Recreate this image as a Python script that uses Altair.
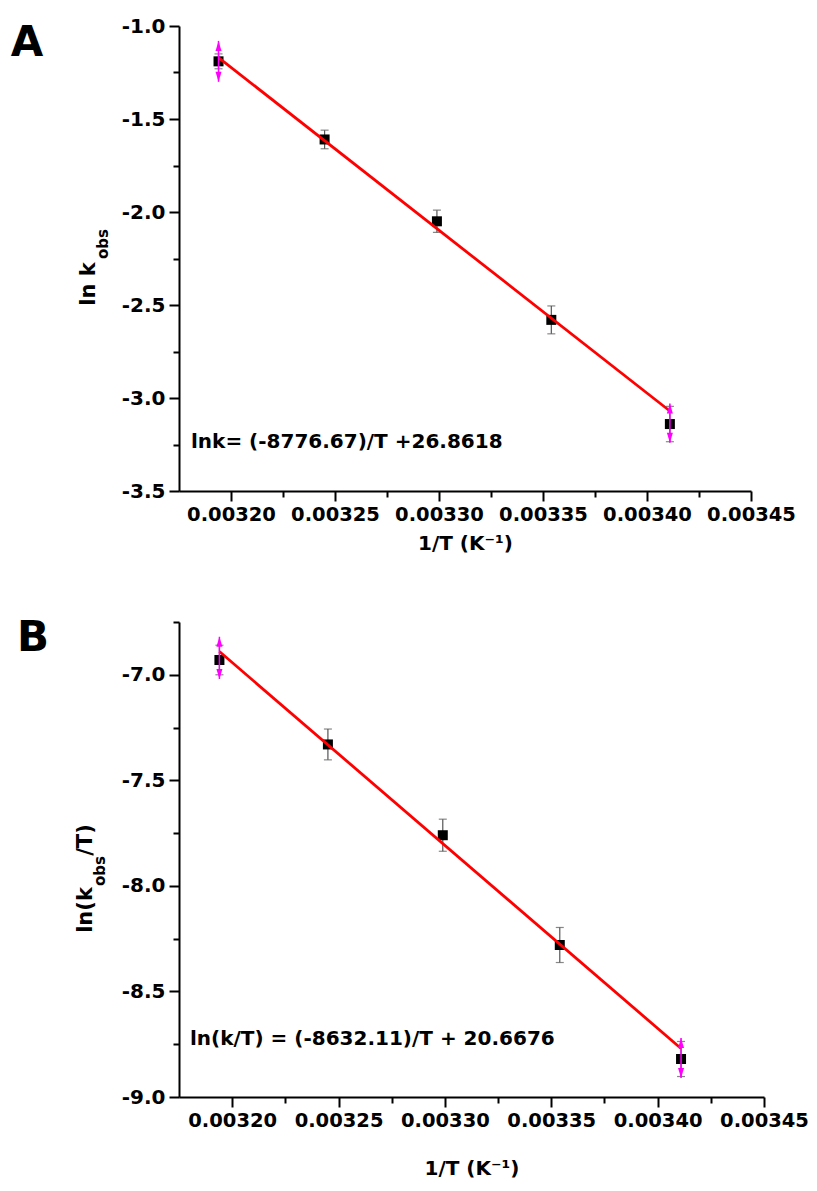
import altair as alt
import pandas as pd

# ---- data ----
inv_T = [0.003194, 0.003245, 0.003299, 0.003354, 0.003411]
lnk_a = [-1.19, -1.61, -2.05, -2.58, -3.14]
err_a = [0.04, 0.05, 0.06, 0.075, 0.095]
lnkT_b = [-6.93, -7.33, -7.76, -8.28, -8.82]
err_b = [0.07, 0.073, 0.076, 0.083, 0.083]

mag_x = [0.003194, 0.003411]
mag_hi_a = [-1.08, -3.03]
mag_lo_a = [-1.30, -3.24]
mag_hi_b = [-6.82, -8.72]
mag_lo_b = [-7.02, -8.91]

fit_x = [0.003194, 0.003411]
fit_a = [-1.17, -3.07]
fit_b = [-6.89, -8.77]

x_ticks = [0.00320, 0.003225, 0.00325, 0.003275, 0.00330, 0.003325,
           0.00335, 0.003375, 0.00340, 0.003425, 0.00345]
ya_ticks = [-3.5, -3.25, -3.0, -2.75, -2.5, -2.25, -2.0, -1.75, -1.5, -1.25, -1.0]
yb_ticks = [-9.0, -8.75, -8.5, -8.25, -8.0, -7.75, -7.5, -7.25, -7.0, -6.75]

eq_a = "lnk= (-8776.67)/T +26.8618"
eq_b = "ln(k/T) = (-8632.11)/T + 20.6676"
x_title = "1/T (K\u207b\u00b9)"

FONT = "DejaVu Sans"
MINUS = "\u2212"


def text_layer(txt, x, y, size=20, angle=0, align="center"):
    return alt.Chart(pd.DataFrame({"t": [txt]})).mark_text(
        font=FONT, fontSize=size, fontWeight="bold", color="black",
        angle=angle, align=align, baseline="middle"
    ).encode(x=alt.value(x), y=alt.value(y), text="t:N")


def panel(yvals, errs, mag_hi, mag_lo, fit_y, ydom, yticks, eq, eq_pos,
          letter, letter_pos, ytitle_parts, width, height, title_pad):
    xmaj = "abs(datum.value/0.00005 - round(datum.value/0.00005)) < 0.01"
    ymaj = "abs(datum.value*2 - round(datum.value*2)) < 0.001"
    x_axis = alt.Axis(
        values=x_ticks, title=x_title, labelOverlap=False, labelFlush=False,
        labelFontSize=19.5,
        labelExpr=f"{xmaj} ? format(datum.value, '.5f') : ''",
        tickSize={"condition": {"test": xmaj, "value": 10}, "value": 6},
        titlePadding=title_pad,
    )
    y_axis = alt.Axis(
        values=yticks, title=None, labelOverlap=False, labelFlush=False,
        labelExpr=f"{ymaj} ? replace(format(datum.value, '.1f'), '{MINUS}', '-') : ''",
        tickSize={"condition": {"test": ymaj, "value": 10}, "value": 6},
    )
    xs = alt.Scale(domain=[0.003175, 0.00345], nice=False, zero=False)
    ys = alt.Scale(domain=ydom, nice=False, zero=False)

    def X():
        return alt.X("x:Q", scale=xs, axis=x_axis)

    def Y(f):
        return alt.Y(f"{f}:Q", scale=ys, axis=y_axis)

    df = pd.DataFrame({"x": inv_T, "y": yvals})
    df["lo"] = df["y"] - pd.Series(errs)
    df["hi"] = df["y"] + pd.Series(errs)
    dm = pd.DataFrame({"x": mag_x, "lo": mag_lo, "hi": mag_hi})
    dfit = pd.DataFrame({"x": fit_x, "y": fit_y})

    base = alt.Chart(df)
    err_rule = base.mark_rule(color="#555555", strokeWidth=1.2).encode(
        x=X(), y=Y("lo"), y2="hi:Q")
    cap_lo = base.mark_tick(orient="horizontal", size=8, thickness=1.2,
                            color="#555555").encode(x=X(), y=Y("lo"))
    cap_hi = base.mark_tick(orient="horizontal", size=8, thickness=1.2,
                            color="#555555").encode(x=X(), y=Y("hi"))
    squares = base.mark_square(size=100, color="black", opacity=1).encode(
        x=X(), y=Y("y"))
    fit = alt.Chart(dfit).mark_line(color="#ff0000", strokeWidth=2.8).encode(
        x=X(), y=Y("y"))
    mag_rule = alt.Chart(dm).mark_rule(color="#ff00ff", strokeWidth=1.5).encode(
        x=X(), y=Y("lo"), y2="hi:Q")
    mag_up = alt.Chart(dm).mark_point(
        shape="M0,-1L0.6,1L-0.6,1Z", size=100, filled=True, color="#ff00ff",
        opacity=1, yOffset=5).encode(x=X(), y=Y("hi"))
    mag_dn = alt.Chart(dm).mark_point(
        shape="M0,1L0.6,-1L-0.6,-1Z", size=100, filled=True, color="#ff00ff",
        opacity=1, yOffset=-5).encode(x=X(), y=Y("lo"))

    layers = [err_rule, cap_lo, cap_hi, squares, fit, mag_rule, mag_up, mag_dn,
              text_layer(eq, eq_pos[0], eq_pos[1], 20, align="left"),
              text_layer(letter, letter_pos[0], letter_pos[1], 42)]
    for (t, px, py, fs) in ytitle_parts:
        layers.append(text_layer(t, px, py, fs, angle=270))
    return alt.layer(*layers).properties(width=width, height=height)


chart_a = panel(lnk_a, err_a, mag_hi_a, mag_lo_a, fit_a, [-3.5, -1.0], ya_ticks,
                eq_a, (12, 416), "A", (-152, 17),
                [("ln k", -90, 258, 21), ("obs", -76, 218, 15)],
                572, 465, 10)
chart_b = panel(lnkT_b, err_b, mag_hi_b, mag_lo_b, fit_b, [-9.0, -6.75], yb_ticks,
                eq_b, (11, 417), "B", (-146, 16),
                [("ln(k", -93, 288, 21), ("obs", -79, 249, 15), ("/T)", -93, 218, 21)],
                585, 475, 29)

chart = alt.vconcat(chart_a, chart_b, spacing=58).properties(
    padding={"left": 2, "top": 8, "right": 0, "bottom": 0}
).configure_axis(
    domainColor="black", domainWidth=2, tickColor="black", tickWidth=2,
    labelFont=FONT, labelFontWeight="bold", labelFontSize=20, labelColor="black",
    titleFont=FONT, titleFontWeight="bold", titleFontSize=20, titleColor="black",
    grid=False, labelPadding=4,
).configure_view(stroke=None)

chart.save("out.html", embed_options={"renderer": "svg", "actions": False})
